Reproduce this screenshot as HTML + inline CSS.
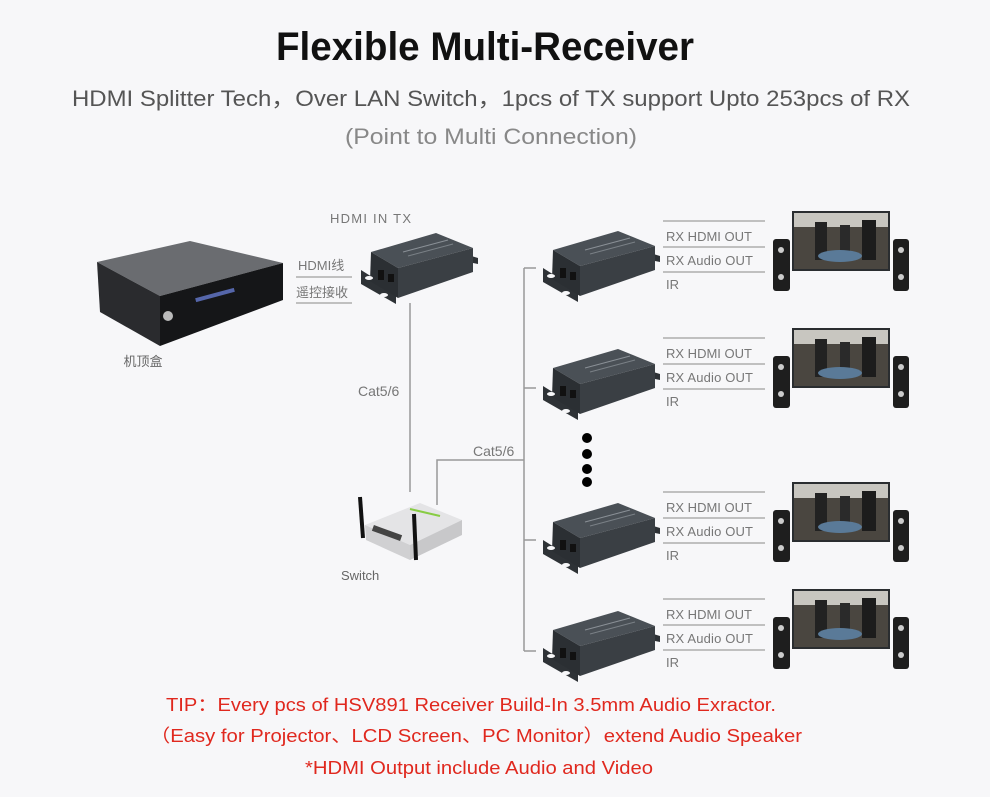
<!DOCTYPE html>
<html><head><meta charset="utf-8"><style>
body{margin:0;background:#f7f7f9;width:990px;height:797px;overflow:hidden;font-family:"Liberation Sans","Noto Sans CJK SC",sans-serif}
svg{position:absolute;left:0;top:0}
</style></head><body>
<svg width="990" height="797" viewBox="0 0 990 797" xmlns="http://www.w3.org/2000/svg">
<defs>
<g id="box">
 <polygon points="543,268 578,290 578,302 543,282" fill="#2e3236"/>
 <polygon points="640,250 660,256 660,262 640,258" fill="#2e3236"/>
 <polygon points="553,250 618,231 655,246 580,266" fill="#4a5056"/>
 <polygon points="553,250 580,266 580,296 552,279" fill="#2b2f33"/>
 <polygon points="580,266 655,246 655,270 580,296" fill="#3a3f44"/>
 <line x1="585" y1="250" x2="630" y2="238" stroke="#8a9096" stroke-width="1"/>
 <line x1="590" y1="254" x2="635" y2="242" stroke="#7a8086" stroke-width="1"/>
 <rect x="560" y="268" width="6" height="10" fill="#111"/>
 <rect x="570" y="272" width="6" height="8" fill="#111"/>
 <ellipse cx="551" cy="276" rx="4" ry="2" fill="#f7f7f9"/>
 <ellipse cx="566" cy="293" rx="4" ry="2" fill="#f7f7f9"/>
</g>
<g id="tv">
 <rect x="792" y="211" width="98" height="60" fill="#2a2d30"/>
 <rect x="794" y="213" width="94" height="56" fill="#4a4640"/>
 <rect x="794" y="213" width="94" height="14" fill="#c8c6c0"/>
 <rect x="815" y="222" width="12" height="38" fill="#222"/><rect x="840" y="225" width="10" height="35" fill="#2a2a2a"/><rect x="862" y="220" width="14" height="40" fill="#1c1c1c"/>
 <ellipse cx="840" cy="256" rx="22" ry="6" fill="#5a7a98"/>
 <rect x="773" y="239" width="17" height="52" rx="3" fill="#1e1e1e"/>
 <circle cx="781" cy="250" r="3" fill="#ccc"/><circle cx="781" cy="277" r="3" fill="#ccc"/>
 <rect x="893" y="239" width="16" height="52" rx="3" fill="#1e1e1e"/>
 <circle cx="901" cy="250" r="3" fill="#ccc"/><circle cx="901" cy="277" r="3" fill="#ccc"/>
 <g stroke="#888" stroke-width="1"><line x1="663" y1="221" x2="765" y2="221"/><line x1="663" y1="247" x2="765" y2="247"/><line x1="663" y1="272" x2="765" y2="272"/></g>
 <g fill="#777" font-size="13"><text x="666" y="241" textLength="86">RX HDMI OUT</text><text x="666" y="265" textLength="87">RX Audio OUT</text><text x="666" y="289">IR</text></g>
</g>
</defs>
<text x="276" y="60" font-size="40" font-weight="bold" fill="#111" textLength="418" lengthAdjust="spacingAndGlyphs">Flexible Multi-Receiver</text>
<text x="72" y="106" font-size="22" fill="#555" textLength="838" lengthAdjust="spacingAndGlyphs">HDMI Splitter Tech，Over LAN Switch，1pcs of TX support Upto 253pcs of RX</text>
<text x="345" y="144" font-size="22" fill="#888" textLength="292" lengthAdjust="spacingAndGlyphs">(Point to Multi Connection)</text>
<!-- set top box -->
<polygon points="97,262 190,241 283,263 160,296" fill="#6a6c70"/>
<polygon points="97,262 160,296 160,346 100,312" fill="#2a2b2e"/>
<polygon points="160,296 283,263 283,300 160,346" fill="#151618"/>
<rect x="195" y="293" width="40" height="4" fill="#5566aa" transform="rotate(-15 215 295)"/>
<circle cx="168" cy="316" r="5" fill="#bbb"/>
<text x="143" y="366" text-anchor="middle" font-size="13" fill="#666">机顶盒</text>
<text x="298" y="270" font-size="13" fill="#777">HDMI线</text>
<line x1="296" y1="277" x2="352" y2="277" stroke="#888"/>
<text x="296" y="297" font-size="13" fill="#777">遥控接收</text>
<line x1="296" y1="303" x2="352" y2="303" stroke="#888"/>
<text x="330" y="223" font-size="13" fill="#777" textLength="81">HDMI IN TX</text>
<use href="#box" transform="translate(-182 2)"/>
<!-- lines -->
<g stroke="#999" stroke-width="1.5" fill="none">
<line x1="410" y1="303" x2="410" y2="492"/>
<polyline points="437,505 437,460 524,460"/>
<line x1="524" y1="268" x2="524" y2="651"/>
<line x1="524" y1="268" x2="536" y2="268"/>
<line x1="524" y1="388" x2="536" y2="388"/>
<line x1="524" y1="540" x2="536" y2="540"/>
<line x1="524" y1="651" x2="536" y2="651"/>
</g>
<text x="358" y="396" font-size="14" fill="#777">Cat5/6</text>
<text x="473" y="456" font-size="14" fill="#777">Cat5/6</text>
<!-- switch -->
<polygon points="365,525 420,503 462,520 410,545" fill="#e4e4e6"/>
<polygon points="365,525 410,545 410,560 366,540" fill="#d0d0d2"/>
<polygon points="410,545 462,520 462,535 410,560" fill="#c8c8ca"/>
<rect x="372" y="530" width="30" height="6" fill="#444" transform="rotate(20 387 533)"/>
<line x1="360" y1="497" x2="363" y2="538" stroke="#111" stroke-width="4"/>
<line x1="414" y1="514" x2="416" y2="560" stroke="#111" stroke-width="4"/>
<line x1="410" y1="509" x2="440" y2="516" stroke="#8c4" stroke-width="2"/>
<text x="341" y="580" font-size="13" fill="#666">Switch</text>
<g fill="#000"><circle cx="587" cy="438" r="5"/><circle cx="587" cy="454" r="5"/><circle cx="587" cy="469" r="5"/><circle cx="587" cy="482" r="5"/></g>
<use href="#box"/>
<use href="#box" transform="translate(0 118)"/>
<use href="#box" transform="translate(0 272)"/>
<use href="#box" transform="translate(0 380)"/>
<use href="#tv"/>
<use href="#tv" transform="translate(0 117)"/>
<use href="#tv" transform="translate(0 271)"/>
<use href="#tv" transform="translate(0 378)"/>
<g fill="#e0281e" font-size="18">
<text x="166" y="711" textLength="610" lengthAdjust="spacingAndGlyphs">TIP：Every pcs of HSV891 Receiver Build-In 3.5mm Audio Exractor.</text>
<text x="150" y="742" textLength="652" lengthAdjust="spacingAndGlyphs">（Easy for Projector、LCD Screen、PC Monitor）extend Audio Speaker</text>
<text x="305" y="774" textLength="348" lengthAdjust="spacingAndGlyphs">*HDMI Output include Audio and Video</text>
</g>
</svg>
</body></html>
